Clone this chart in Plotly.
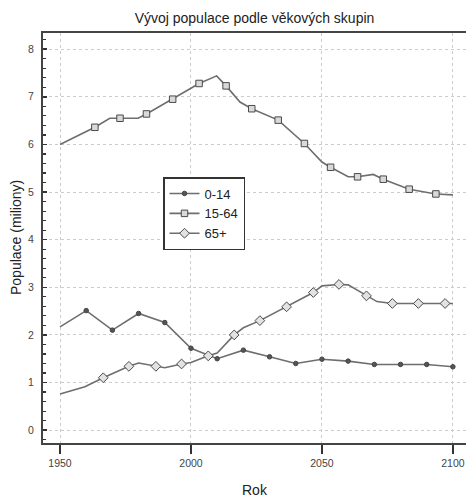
import plotly.graph_objects as go

# ---- data ----
labels = ["0-14", "15-64", "65+"]

# 0-14 : line vertices and markers
y014_years = [1950, 1960, 1970, 1980, 1990, 2000, 2010, 2020, 2030, 2040, 2050, 2060, 2070, 2080, 2090, 2100]
y014_vals = [2.17, 2.51, 2.10, 2.45, 2.26, 1.72, 1.50, 1.68, 1.54, 1.40, 1.49, 1.45, 1.38, 1.38, 1.38, 1.33]
y014_mark_years = [1960, 1970, 1980, 1990, 2000, 2010, 2020, 2030, 2040, 2050, 2060, 2070, 2080, 2090, 2100]
y014_mark_vals = [2.51, 2.10, 2.45, 2.26, 1.72, 1.50, 1.68, 1.54, 1.40, 1.49, 1.45, 1.38, 1.38, 1.38, 1.33]

# 15-64
y1564_years = [1950, 1963.3, 1969, 1972.9, 1979.8, 1983, 1993, 2000, 2003.1, 2009.8, 2013.4, 2018.7,
               2023.2, 2033.3, 2043.3, 2050, 2053.3, 2060, 2063.6, 2069.6, 2073.4, 2083.3, 2093.5, 2100]
y1564_vals = [6.00, 6.36, 6.55, 6.55, 6.55, 6.64, 6.95, 7.17, 7.28, 7.44, 7.23, 6.89,
              6.75, 6.51, 6.02, 5.63, 5.52, 5.32, 5.32, 5.37, 5.27, 5.06, 4.96, 4.94]
y1564_mark_years = [1963.3, 1972.9, 1983, 1993, 2003.1, 2013.4, 2023.2, 2033.3, 2043.3, 2053.3, 2063.6, 2073.4, 2083.3, 2093.5]
y1564_mark_vals = [6.36, 6.55, 6.64, 6.95, 7.28, 7.23, 6.75, 6.51, 6.02, 5.52, 5.32, 5.27, 5.06, 4.96]

# 65+
y65_years = [1950, 1959.5, 1966.5, 1976.3, 1980, 1986.6, 1990, 1996.4, 2000, 2006.6, 2010, 2016.5, 2020,
             2026.3, 2036.5, 2046.7, 2050, 2056.5, 2060, 2067, 2071, 2076.9, 2086.8, 2097, 2100]
y65_vals = [0.76, 0.91, 1.10, 1.34, 1.41, 1.34, 1.31, 1.39, 1.42, 1.56, 1.62, 2.00, 2.15,
            2.30, 2.59, 2.89, 3.03, 3.06, 3.05, 2.82, 2.70, 2.66, 2.66, 2.66, 2.66]
y65_mark_years = [1966.5, 1976.3, 1986.6, 1996.4, 2006.6, 2016.5, 2026.3, 2036.5, 2046.7, 2056.5, 2067, 2076.9, 2086.8, 2097]
y65_mark_vals = [1.10, 1.34, 1.34, 1.39, 1.56, 2.00, 2.30, 2.59, 2.89, 3.06, 2.82, 2.66, 2.66, 2.66]

x_ticks = [1950, 2000, 2050, 2100]
y_ticks = [0, 1, 2, 3, 4, 5, 6, 7, 8]

title_text = "Vývoj populace podle věkových skupin"
x_title = "Rok"
y_title = "Populace (miliony)"

# ---- styles ----
LINE_COL = "#6e6e6e"
MARK_EDGE = "#4a4a4a"
FONT = "Liberation Sans, Arial, sans-serif"

W, H = 466, 498
PL, PT, PB = 43, 33, 55
PW, PH = W - PL, H - PT - PB

styles = [
    dict(symbol="circle", size=4.5, color="#555555", line=dict(color="#444444", width=1)),
    dict(symbol="square", size=6.5, color="#d9d9d9", line=dict(color=MARK_EDGE, width=1)),
    dict(symbol="diamond", size=7.5, color="#e2e2e2", line=dict(color=MARK_EDGE, width=1)),
]

series = [
    (y014_years, y014_vals, y014_mark_years, y014_mark_vals),
    (y1564_years, y1564_vals, y1564_mark_years, y1564_mark_vals),
    (y65_years, y65_vals, y65_mark_years, y65_mark_vals),
]

fig = go.Figure()
for (lx, ly, mx, my), st in zip(series, styles):
    fig.add_trace(go.Scatter(x=lx, y=ly, mode="lines", showlegend=False,
                             line=dict(color=LINE_COL, width=1.6), hoverinfo="skip"))
    fig.add_trace(go.Scatter(x=mx, y=my, mode="markers", showlegend=False, marker=st))

for name, st in zip(labels, styles):
    fig.add_trace(go.Scatter(x=[None], y=[None], mode="lines+markers", name=name,
                             line=dict(color=LINE_COL, width=1.6), marker=st))

fig.update_layout(
    width=W, height=H,
    margin=dict(l=PL, r=0, t=PT, b=PB, pad=0, autoexpand=False),
    paper_bgcolor="white", plot_bgcolor="white",
    font=dict(family=FONT, color="#333333"),
    title=dict(text=title_text, x=0.5, xref="paper", xanchor="center",
               y=1 - 18 / H, yref="container", yanchor="middle",
               font=dict(size=14, color="#222222")),
    legend=dict(x=(163 - PL) / PW, y=1 - (177 - PT) / PH, xanchor="left", yanchor="top",
                bgcolor="white", bordercolor="#333333", borderwidth=1.5,
                font=dict(size=13, color="#222222"), itemwidth=30,
                tracegroupgap=0),
    showlegend=True,
    annotations=[
        dict(text=x_title, xref="paper", yref="paper", x=0.5, y=-(490 - 443) / PH,
             xanchor="center", yanchor="middle", showarrow=False,
             font=dict(size=14, color="#222222")),
        dict(text=y_title, xref="paper", yref="paper", x=-(43 - 16) / PW, y=0.5,
             xanchor="center", yanchor="middle", showarrow=False, textangle=-90,
             font=dict(size=14, color="#222222")),
    ],
)

fig.update_xaxes(
    range=[1943.5, 2105.0], tickvals=x_ticks, ticktext=[str(v) for v in x_ticks],
    ticks="outside", ticklen=9, tickwidth=2, tickcolor="#333333",
    showline=True, linewidth=2, linecolor="#444444", mirror=True,
    showgrid=True, gridcolor="#cccccc", gridwidth=1, griddash="dot",
    zeroline=False, tickfont=dict(size=10.5, color="#444444"), automargin=False,
    ticklabeloverflow="allow",
)
fig.update_yaxes(
    range=[-0.27, 8.34], tickvals=y_ticks, ticktext=[str(v) for v in y_ticks],
    ticks="inside", ticklen=4, tickwidth=1.5, tickcolor="#333333",
    minor=dict(dtick=0.2, tick0=0, ticks="inside", ticklen=3, tickwidth=1.2,
               tickcolor="#333333", showgrid=False),
    showline=True, linewidth=2, linecolor="#444444", mirror=False,
    showgrid=True, gridcolor="#cccccc", gridwidth=1, griddash="dot",
    zeroline=False, tickfont=dict(size=10.5, color="#444444"), ticklabelstandoff=5,
    automargin=False,
)

fig.write_html(
    "out.html",
    config={"displayModeBar": False, "staticPlot": True},
    post_script="document.body.style.margin='0px';document.body.style.overflow='hidden';",
)
